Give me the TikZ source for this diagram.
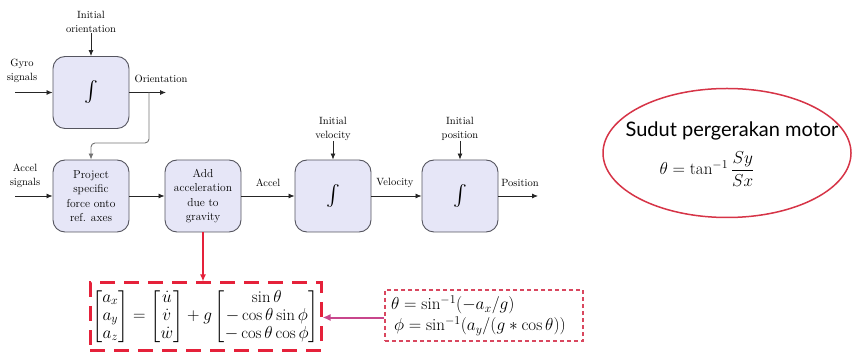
\documentclass[tikz,border=0pt]{standalone}
\usepackage{amsmath}
\usepackage{fontspec}
\newfontfamily\latofont{Lato}
\usetikzlibrary{arrows.meta,shapes.geometric}
\definecolor{boxfill}{HTML}{E6E6F7}
\definecolor{boxdraw}{HTML}{55555F}
\definecolor{redc}{HTML}{E5213A}
\definecolor{mgA}{RGB}{200,70,140}
\definecolor{mgB}{RGB}{217,71,95}
\definecolor{ellc}{HTML}{D63447}
\newcommand{\intsym}{{\fontsize{20}{20}\selectfont$\int$}}
\begin{document}
\begin{tikzpicture}[x=1pt,y=-1pt,
  blk/.style={draw=boxdraw, fill=boxfill, rounded corners=12pt, minimum width=76pt,
    minimum height=72pt, line width=0.9pt, align=center,
    font=\fontsize{11.5}{14.5}\selectfont, inner sep=1pt},
  lbl/.style={align=center, font=\fontsize{10.5}{14}\selectfont, inner sep=0pt},
  arr/.style={-{Latex[length=6pt,width=5pt]}, line width=0.8pt, draw=black!85},
  fbarr/.style={-{Latex[length=6pt,width=5pt]}, line width=0.9pt, draw=black!55, rounded corners=4pt},
  redarr/.style={-{Latex[length=7pt,width=6pt]}, line width=1.5pt, draw=redc},
  magarr/.style={-{Latex[length=8pt,width=7pt]}, line width=2pt, draw=mgA, fill=mgA},
]
\useasboundingbox (0,0) rectangle (853,352);

% blocks
\node[blk] (int1) at (91,92.5) {\intsym};
\node[blk] (proj) at (91,196) {Project\\specific\\force onto\\ref. axes};
\node[blk] (grav) at (203,196) {Add\\acceleration\\due to\\gravity};
\node[blk] (int2) at (333,196) {\intsym};
\node[blk] (int3) at (460,196) {\intsym};

% top integrator
\node[lbl] (iorient) at (91,22) {Initial\\orientation};
\draw[arr] (iorient.south) -- (int1.north);
\node[lbl] (gyro) at (22,71) {Gyro\\signals};
\coordinate (gyroin) at (15,92.5);
\draw[arr] (gyroin) -- (int1.west);
\node[lbl] (orientl) at (161,79) {Orientation};
\coordinate (orientout) at (166,92.5);
\draw[arr] (int1.east) -- (orientout);
\coordinate (branch) at (149,92.5);
\coordinate (fbc) at (149,143);
\draw[fbarr] (branch) -- (fbc) -| (proj.north);

% second row
\node[lbl] (accs) at (25,176) {Accel\\signals};
\coordinate (accin) at (15,196);
\draw[arr] (accin) -- (proj.west);
\draw[arr] (proj.east) -- (grav.west);
\node[lbl] (accl) at (268,183) {Accel};
\draw[arr] (grav.east) -- (int2.west);
\node[lbl] (vell) at (395,183) {Velocity};
\draw[arr] (int2.east) -- (int3.west);
\node[lbl] (posl) at (520,183) {Position};
\coordinate (posout) at (538,196);
\draw[arr] (int3.east) -- (posout);
\node[lbl] (ivel) at (333,129) {Initial\\velocity};
\draw[arr] (ivel.south) -- (int2.north);
\node[lbl] (ipos) at (460,129) {Initial\\position};
\draw[arr] (ipos.south) -- (int3.north);

% equation box
\node[draw=redc, line width=3pt, dash pattern=on 15pt off 9pt,
  minimum width=231pt, minimum height=67pt, inner sep=2pt,
  font=\fontsize{16.5}{18}\selectfont] (eqbox) at (205.5,316.5)
  {\renewcommand{\arraystretch}{1.0}$\begin{bmatrix}a_x\\a_y\\a_z\end{bmatrix} = \begin{bmatrix}\dot u\\\dot v\\\dot w\end{bmatrix} + g\begin{bmatrix}\sin\theta\\-\cos\theta\sin\phi\\-\cos\theta\cos\phi\end{bmatrix}$};
\draw[redarr] (grav.south) -- (grav.south |- eqbox.north);

% angle box
\node[draw=mgB, line width=1.2pt, dash pattern=on 4pt off 3pt,
  minimum width=198pt, minimum height=51pt, text width=190pt, align=left, inner sep=4pt,
  font=\fontsize{17}{21}\selectfont] (angbox) at (484,315.5)
  {\hspace{2pt}$\theta = \sin^{-1}(-a_x/g)$\\\hspace{5pt}$\phi = \sin^{-1}(a_y/(g*\cos\theta))$};
\draw[magarr] ([yshift=-2pt]angbox.west) -- ([yshift=-2pt]angbox.west -| eqbox.east);

% ellipse
\node[ellipse, draw=ellc, line width=1.5pt, minimum width=248pt, minimum height=129pt] (ell) at (727,153) {};
\node[font=\latofont\fontsize{20}{21}\selectfont, inner sep=0pt] (title) at (732,131) {Sudut pergerakan motor};
\node[font=\fontsize{17}{19}\selectfont, inner sep=0pt] (formula) at (707,169) {$\theta = \tan^{-1}\dfrac{Sy}{Sx}$};
\end{tikzpicture}
\end{document}
